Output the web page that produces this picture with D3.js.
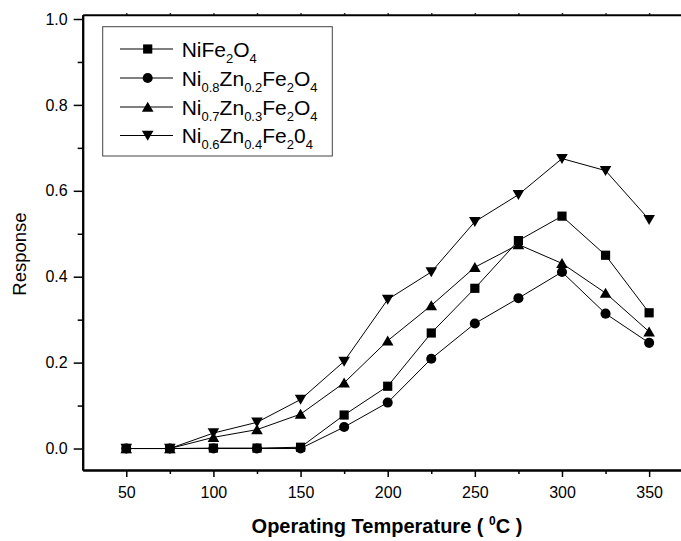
<!DOCTYPE html>
<html>
<head>
<meta charset="utf-8">
<script src="https://cdn.jsdelivr.net/npm/d3@7"></script>
<style>
  body { margin: 0; background: #fff; }
  svg { font-family: "Liberation Sans", Arial, sans-serif; }
</style>
</head>
<body>
<div id="plot"></div>
<script>
// data
const temps = [50, 75, 100, 125, 150, 175, 200, 225, 250, 275, 300, 325, 350];
const niFe = [0, 0, 0.001, 0.001, 0.003, 0.078, 0.145, 0.269, 0.373, 0.484, 0.541, 0.450, 0.316];
const zn02 = [0, 0, 0, 0, 0, 0.050, 0.107, 0.209, 0.291, 0.350, 0.411, 0.314, 0.246];
const zn03 = [0, 0, 0.026, 0.044, 0.080, 0.153, 0.251, 0.333, 0.422, 0.475, 0.431, 0.362, 0.272];
const zn04 = [0, 0, 0.036, 0.061, 0.114, 0.203, 0.347, 0.411, 0.528, 0.591, 0.675, 0.647, 0.533];

const xMajor = [50, 100, 150, 200, 250, 300, 350];
const xMinor = [75, 125, 175, 225, 275, 325];
const yMajor = [0, 0.2, 0.4, 0.6, 0.8, 1.0];
const yMinor = [0.1, 0.3, 0.5, 0.7, 0.9];

// legend labels as [text, isSub] pieces
const labels = [
  [["NiFe", 0], ["2", 1], ["O", 0], ["4", 1]],
  [["Ni", 0], ["0.8", 1], ["Zn", 0], ["0.2", 1], ["Fe", 0], ["2", 1], ["O", 0], ["4", 1]],
  [["Ni", 0], ["0.7", 1], ["Zn", 0], ["0.3", 1], ["Fe", 0], ["2", 1], ["O", 0], ["4", 1]],
  [["Ni", 0], ["0.6", 1], ["Zn", 0], ["0.4", 1], ["Fe", 0], ["2", 1], ["0", 0], ["4", 1]]
];
const markers = ["square", "circle", "up", "down"];
const series = [niFe, zn02, zn03, zn04];

const width = 681, height = 541;
const svg = d3.select("#plot").append("svg")
  .attr("width", width).attr("height", height);

const x = d3.scaleLinear().domain([25, 375]).range([82.7, 692.7]);
const y = d3.scaleLinear().domain([-0.05, 1.01]).range([470, 14.7]);

function markerPath(type) {
  if (type === "square") return "M-4.6,-4.6H4.6V4.6H-4.6Z";
  if (type === "up") return "M0,-5.3L5.8,4.7H-5.8Z";
  if (type === "down") return "M0,5.3L5.8,-4.7H-5.8Z";
  return d3.symbol(d3.symbolCircle, 80)();
}

// axes
function styleAxis(g, w) {
  g.select(".domain").attr("stroke", "#000").attr("stroke-width", w);
  g.selectAll(".tick line").attr("stroke", "#000").attr("stroke-width", 1.5);
  g.selectAll("text").attr("fill", "#000").style("font-size", "16px")
    .style("font-family", "'Liberation Sans', Arial, sans-serif");
}

svg.append("g").attr("transform", "translate(0,470)")
  .call(d3.axisBottom(x).tickValues(xMajor).tickSize(7).tickSizeOuter(0).tickPadding(10))
  .call(g => styleAxis(g, 2));
svg.append("g").attr("transform", "translate(0,470)")
  .call(d3.axisBottom(x).tickValues(xMinor).tickSize(4).tickSizeOuter(0).tickFormat(""))
  .call(g => styleAxis(g, 2));

svg.append("g").attr("transform", "translate(0,14.7)")
  .call(d3.axisTop(x).tickValues(xMajor.concat(xMinor)).tickSize(1.5).tickSizeOuter(0).tickFormat(""))
  .call(g => styleAxis(g, 2));

svg.append("g").attr("transform", "translate(82.7,0)")
  .call(d3.axisLeft(y).tickValues(yMajor).tickSize(9).tickSizeOuter(0).tickPadding(6).tickFormat(d3.format(".1f")))
  .call(g => styleAxis(g, 2));
svg.append("g").attr("transform", "translate(82.7,0)")
  .call(d3.axisLeft(y).tickValues(yMinor).tickSize(5).tickSizeOuter(0).tickFormat(""))
  .call(g => styleAxis(g, 2));

// lines and markers
const line = d3.line().x((d, i) => x(temps[i])).y(d => y(d));
series.forEach((vals, k) => {
  svg.append("path")
    .attr("d", line(vals))
    .attr("fill", "none")
    .attr("stroke", "#000")
    .attr("stroke-width", 1);
});
series.forEach((vals, k) => {
  svg.append("g").selectAll("path")
    .data(vals)
    .enter().append("path")
    .attr("transform", (d, i) => `translate(${x(temps[i])},${y(d)})`)
    .attr("d", markerPath(markers[k]))
    .attr("fill", "#000");
});

// legend
const legend = svg.append("g");
legend.append("rect")
  .attr("x", 102.7).attr("y", 26.7)
  .attr("width", 229.6).attr("height", 129.3)
  .attr("fill", "#fff").attr("stroke", "#444").attr("stroke-width", 1);

const rowY = [49, 78, 107, 135.5];
labels.forEach((parts, k) => {
  const ry = rowY[k];
  legend.append("line")
    .attr("x1", 120).attr("x2", 173).attr("y1", ry).attr("y2", ry)
    .attr("stroke", "#000").attr("stroke-width", 1);
  legend.append("path")
    .attr("transform", `translate(147.7,${ry})`)
    .attr("d", markerPath(markers[k]))
    .attr("fill", "#000");
  const t = legend.append("text")
    .attr("x", 181.7).attr("y", ry + 7.5)
    .style("font-size", "21px").attr("fill", "#000");
  let shifted = false;
  parts.forEach(([s, sub]) => {
    const ts = t.append("tspan").text(s);
    if (sub && !shifted) { ts.attr("dy", 6).style("font-size", "13px"); shifted = true; }
    else if (sub) { ts.style("font-size", "13px"); }
    else if (shifted) { ts.attr("dy", -6); shifted = false; }
  });
});

// axis titles
svg.append("text")
  .attr("transform", "translate(26,254) rotate(-90)")
  .attr("text-anchor", "middle")
  .style("font-size", "18.5px")
  .attr("fill", "#000")
  .text("Response");

const xt = svg.append("text")
  .attr("x", 387).attr("y", 533)
  .attr("text-anchor", "middle")
  .style("font-size", "20px").style("font-weight", "bold")
  .attr("fill", "#000");
xt.append("tspan").text("Operating Temperature ( ");
xt.append("tspan").attr("dy", -8).style("font-size", "12px").text("0");
xt.append("tspan").attr("dy", 8).text("C )");
</script>
</body>
</html>
